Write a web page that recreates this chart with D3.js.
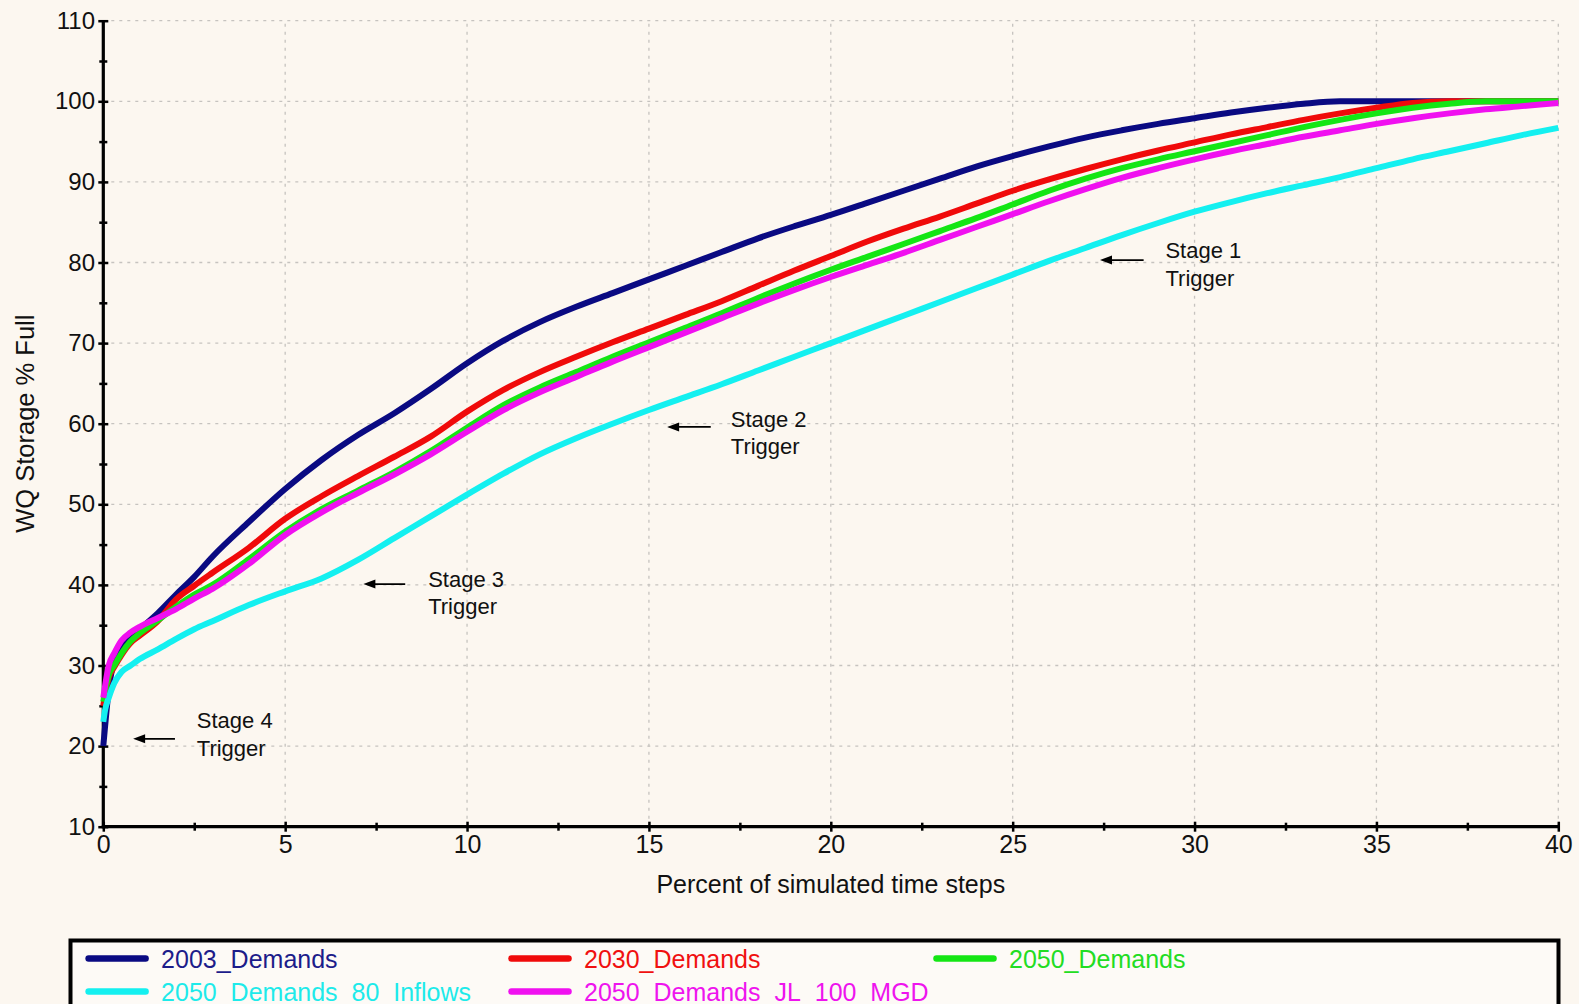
<!DOCTYPE html>
<html>
<head>
<meta charset="utf-8">
<title>WQ Storage % Full</title>
<script src="https://cdn.jsdelivr.net/npm/d3@7/dist/d3.min.js"></script>
<style>
  html, body { margin: 0; padding: 0; background: #fcf7f0; }
  svg { display: block; font-family: "Liberation Sans", Arial, Helvetica, sans-serif; }
</style>
</head>
<body>
<svg id="chart" width="1579" height="1004"></svg>
<script>
// Percent of simulated time steps (x) shared by every series
const pctSteps = [0, 0.05, 0.15, 0.3, 0.5, 0.75, 1, 1.5, 2, 2.5, 3, 4, 5, 6, 7, 8, 9, 10,
  11, 12, 13, 14, 15, 16, 17, 18, 19, 20, 21, 22, 23, 24, 25, 26, 27, 28, 29, 30,
  31, 32, 33, 34, 35, 36, 37, 38, 39, 40];

// WQ storage, % full, for each demand scenario
const demands2003 = [20, 22.5, 27, 30.5, 32, 33.5, 34.5, 36.5, 38.8, 41, 43.5, 47.8, 51.9, 55.5, 58.6, 61.3, 64.3, 67.5,
  70.3, 72.6, 74.5, 76.2, 77.9, 79.6, 81.3, 83, 84.5, 85.9, 87.4, 88.9, 90.4, 91.9, 93.2, 94.4, 95.5, 96.4, 97.2, 97.9,
  98.6, 99.2, 99.7, 100, 100, 100, 100, 100, 100, 100];
const demands2030 = [25, 26.5, 28.5, 29.8, 31.3, 32.8, 33.7, 35.5, 38.2, 39.9, 41.5, 44.6, 48.2, 51, 53.5, 55.9, 58.4, 61.5,
  64.2, 66.4, 68.3, 70.1, 71.8, 73.5, 75.2, 77.1, 79, 80.8, 82.6, 84.2, 85.7, 87.3, 88.9, 90.3, 91.6, 92.8, 93.9, 94.9,
  95.9, 96.8, 97.7, 98.5, 99.2, 99.8, 100, 100, 100, 100];
const demands2050 = [25.5, 26.8, 28.8, 30, 31.5, 33, 34, 35.6, 37.3, 38.8, 40, 43.2, 46.6, 49.4, 51.7, 54, 56.6, 59.5,
  62.3, 64.5, 66.4, 68.3, 70.1, 71.9, 73.7, 75.6, 77.4, 79.1, 80.7, 82.3, 83.9, 85.5, 87.2, 88.9, 90.4, 91.7, 92.8, 93.8,
  94.8, 95.8, 96.8, 97.7, 98.5, 99.2, 99.7, 100, 100, 100];
const demands2050Inflows80 = [23, 24.5, 26, 27.8, 29.2, 30, 30.8, 32, 33.3, 34.5, 35.5, 37.5, 39.2, 40.8, 43.1, 45.8, 48.5, 51.2,
  53.8, 56.2, 58.2, 60, 61.7, 63.3, 64.9, 66.6, 68.3, 70, 71.7, 73.4, 75.1, 76.8, 78.5, 80.2, 81.8, 83.4, 84.9, 86.3,
  87.5, 88.6, 89.6, 90.6, 91.7, 92.8, 93.8, 94.8, 95.8, 96.7];
const demands2050JL100 = [26, 27.5, 30, 31.5, 33.1, 34.1, 34.8, 35.9, 37, 38.3, 39.5, 42.6, 46.2, 49, 51.4, 53.7, 56.2, 59,
  61.7, 63.9, 65.8, 67.7, 69.5, 71.3, 73.1, 74.9, 76.6, 78.2, 79.7, 81.2, 82.8, 84.4, 86, 87.6, 89.1, 90.5, 91.7, 92.8,
  93.8, 94.7, 95.6, 96.4, 97.2, 97.9, 98.5, 99, 99.4, 99.8];

const seriesNames = ["2003_Demands", "2030_Demands", "2050_Demands", "2050_Demands_80_Inflows", "2050_Demands_JL_100_MGD"];
const seriesValues = [demands2003, demands2030, demands2050, demands2050Inflows80, demands2050JL100];

// Axis ticks
const xMajorTicks = [0, 5, 10, 15, 20, 25, 30, 35, 40];
const xMinorTicks = [2.5, 7.5, 12.5, 17.5, 22.5, 27.5, 32.5, 37.5];
const yMajorTicks = [10, 20, 30, 40, 50, 60, 70, 80, 90, 100, 110];
const yMinorTicks = [15, 25, 35, 45, 55, 65, 75, 85, 95, 105];

// Trigger annotations
const stageLabels = ["Stage 1", "Stage 2", "Stage 3", "Stage 4"];
const stageArrowY = [80.3, 59.6, 40.1, 20.9];
const stageArrowTipX = [27.4, 15.5, 7.15, 0.82];
const stageArrowTailX = [28.6, 16.7, 8.3, 1.97];
const stageTextX = [29.2, 17.25, 8.93, 2.57];
const stageTextY = [80.5, 59.6, 39.8, 22.2];

// ---------------------------------------------------------------
const colors = ["#0a0a82", "#f00a0a", "#14e614", "#14f0f0", "#f010f0"];
const legendTextColors = ["#1c1c8a", "#f01010", "#22dd22", "#1eeaea", "#ee14ee"];

const svg = d3.select("#chart");
const x = d3.scaleLinear().domain([0, 40]).range([103.3, 1558.3]);
const y = d3.scaleLinear().domain([10, 110]).range([826.7, 20.7]);

// Dotted grid
const grid = svg.append("g").attr("stroke", "#c6c3bf").attr("stroke-width", 1.3).attr("stroke-dasharray", "3,5");
grid.selectAll("line.h").data(yMajorTicks.filter(v => v > 10)).join("line")
  .attr("x1", x(0)).attr("x2", x(40)).attr("y1", d => y(d)).attr("y2", d => y(d));
grid.selectAll("line.v").data(xMajorTicks.filter(v => v > 0)).join("line")
  .attr("x1", d => x(d)).attr("x2", d => x(d)).attr("y1", y(10)).attr("y2", y(110));

// Y axis
const yAxis = svg.append("g").attr("transform", `translate(${x(0)},0)`)
  .call(d3.axisLeft(y).tickValues(yMajorTicks).tickSize(5).tickSizeOuter(0).tickPadding(3.3));
yAxis.select(".domain").remove();
yAxis.selectAll(".tick line").attr("x1", 5).attr("stroke", "#000").attr("stroke-width", 2.5);
yAxis.selectAll(".tick text").attr("font-size", 24).attr("fill", "#111")
  .attr("font-family", "'Liberation Sans', Arial, sans-serif");
const yMinor = svg.append("g").attr("transform", `translate(${x(0)},0)`)
  .call(d3.axisLeft(y).tickValues(yMinorTicks).tickSize(4).tickSizeOuter(0).tickFormat(""));
yMinor.select(".domain").remove();
yMinor.selectAll(".tick line").attr("x1", 4).attr("stroke", "#000").attr("stroke-width", 2.5);

// X axis
const xAxis = svg.append("g").attr("transform", `translate(0,${y(10)})`)
  .call(d3.axisBottom(x).tickValues(xMajorTicks).tickSize(5).tickSizeOuter(0).tickPadding(3.5));
xAxis.select(".domain").remove();
xAxis.selectAll(".tick line").attr("y1", -5).attr("stroke", "#000").attr("stroke-width", 2.5);
xAxis.selectAll(".tick text").attr("font-size", 25).attr("fill", "#111")
  .attr("font-family", "'Liberation Sans', Arial, sans-serif");
const xMinor = svg.append("g").attr("transform", `translate(0,${y(10)})`)
  .call(d3.axisBottom(x).tickValues(xMinorTicks).tickSize(4).tickSizeOuter(0).tickFormat(""));
xMinor.select(".domain").remove();
xMinor.selectAll(".tick line").attr("y1", -4).attr("stroke", "#000").attr("stroke-width", 2.5);

// Axis lines
svg.append("line").attr("x1", x(0)).attr("x2", x(0)).attr("y1", y(110)).attr("y2", y(10) + 1.5)
  .attr("stroke", "#000").attr("stroke-width", 3.2);
svg.append("line").attr("x1", x(0) - 1.5).attr("x2", x(40)).attr("y1", y(10)).attr("y2", y(10))
  .attr("stroke", "#000").attr("stroke-width", 3.2);

// Axis titles
svg.append("text").attr("x", (x(0) + x(40)) / 2).attr("y", 893).attr("text-anchor", "middle")
  .attr("font-size", 25).attr("fill", "#111").text("Percent of simulated time steps");
svg.append("text").attr("transform", `translate(34,${(y(10) + y(110)) / 2}) rotate(-90)`)
  .attr("text-anchor", "middle").attr("font-size", 25.5).attr("fill", "#111").text("WQ Storage % Full");

// Series lines
const line = d3.line().x((d, i) => x(pctSteps[i])).y(d => y(d)).curve(d3.curveMonotoneX);
svg.append("g").selectAll("path").data(seriesValues).join("path")
  .attr("d", d => line(d)).attr("fill", "none")
  .attr("stroke", (d, i) => colors[i]).attr("stroke-width", 6)
  .attr("stroke-linejoin", "round");

// Trigger annotations: left-pointing arrows with two-line labels
const ann = svg.append("g");
stageLabels.forEach((label, i) => {
  const tipX = x(stageArrowTipX[i]), tailX = x(stageArrowTailX[i]), ay = y(stageArrowY[i]);
  ann.append("line")
    .attr("x1", tipX + 8).attr("x2", tailX)
    .attr("y1", ay).attr("y2", ay)
    .attr("stroke", "#000").attr("stroke-width", 1.6);
  ann.append("path")
    .attr("d", `M${tipX},${ay} L${tipX + 12},${ay - 4.5} L${tipX + 12},${ay + 4.5} Z`)
    .attr("fill", "#000");
  const t = ann.append("text").attr("x", x(stageTextX[i])).attr("y", y(stageTextY[i]))
    .attr("font-size", 22).attr("fill", "#111");
  t.append("tspan").attr("x", x(stageTextX[i])).text(label);
  t.append("tspan").attr("x", x(stageTextX[i])).attr("dy", 27.5).text("Trigger");
});

// Legend
const legend = svg.append("g");
legend.append("rect").attr("x", 70.5).attr("y", 940.5).attr("width", 1488).attr("height", 120)
  .attr("fill", "#fdfaf6").attr("stroke", "#000").attr("stroke-width", 4);
const legendColX = [88.6, 511.5, 936.5];
const legendRowY = [958.6, 991.5];
seriesNames.forEach((name, i) => {
  const col = i % 3, row = Math.floor(i / 3);
  const lx = legendColX[col], ly = legendRowY[row];
  legend.append("line").attr("x1", lx).attr("x2", lx + 57).attr("y1", ly).attr("y2", ly)
    .attr("stroke", colors[i]).attr("stroke-width", 6.5).attr("stroke-linecap", "round");
  legend.append("text").attr("x", lx + 72.5).attr("y", ly).attr("dy", "0.36em")
    .attr("font-size", 25).attr("fill", legendTextColors[i]).text(name);
});
</script>
</body>
</html>
